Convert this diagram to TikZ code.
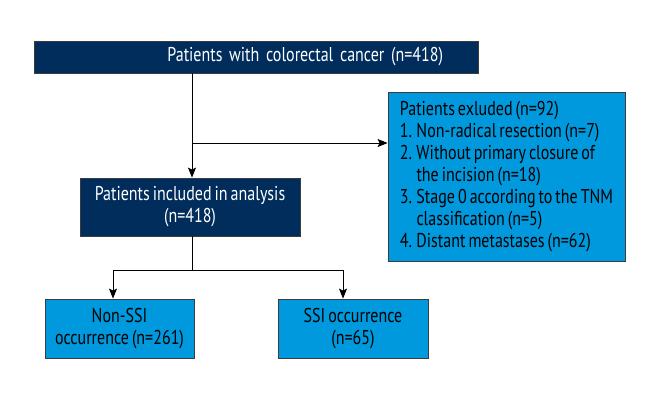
\documentclass[tikz,border=0pt]{standalone}
\usepackage{fontspec}
\setmainfont[FakeStretch=0.8,WordSpace=0.7]{PT Sans}
\usetikzlibrary{arrows.meta}
\definecolor{navyBlue}{RGB}{0,45,92}
\definecolor{skyBlue}{RGB}{0,153,221}
\definecolor{edgeGrey}{RGB}{60,60,60}
\begin{document}
\begin{tikzpicture}[%%
  x=1pt,y=-1pt,%%
  font=\fontsize{20}{22}\selectfont,%%
  darkStyle/.style={draw=edgeGrey,fill=navyBlue,text=white,line width=0.8pt,align=center},%%
  lightStyle/.style={draw=edgeGrey,fill=skyBlue,text=black,line width=0.8pt,align=center},%%
  arrowStyle/.style={-{Stealth[length=10pt,width=8pt,inset=2pt]},line width=1pt},%%
  lineStyle/.style={-,line width=1pt}%%
]
%%
%%
\useasboundingbox (0,0) rectangle (660,400);
\pgfmathsetmacro{\splitx}{192}  %% Where the trunk runs down.
\pgfmathsetmacro{\boxh}{59}     %% Height of the two bottom boxes.
%%
%% The boxes.
\node[darkStyle,minimum width=444pt,minimum height=32pt,inner sep=0pt,
  text width=374pt,align=right] (total) at (256,57)
  {Patients with colorectal cancer (n=418)};
\node[lightStyle,minimum width=237pt,minimum height=169pt,inner sep=0pt,
  align=left] (excluded) at (506.5,176.5)
  {Patients exluded (n=92)\\
   1. Non-radical resection (n=7)\\
   2. Without primary closure of\\
   \hphantom{2. }the incision (n=18)\\
   3. Stage 0 according to the TNM\\
   \hphantom{3. }classification (n=5)\\
   4. Distant metastases (n=62)};
\node[darkStyle,minimum width=220pt,minimum height=58pt] (included) at (190,207)
  {Patients included in analysis\\(n=418)};
\node[lightStyle,minimum width=149pt,minimum height=\boxh pt] (nonssi) at (119.5,328.5)
  {Non-SSI\\occurrence (n=261)};
\node[lightStyle,minimum width=150pt,minimum height=\boxh pt] (ssi) at (353,328.5)
  {SSI occurrence\\(n=65)};
%%
%% The connectors.
\coordinate (split) at (\splitx,143);
\coordinate (branch) at (\splitx,270);
\draw[arrowStyle] (total.south -| split) -- (included.north -| split);
\draw[arrowStyle] (split) -- (split -| excluded.west);
\draw[lineStyle] (included.south -| branch) -- (branch);
\draw[arrowStyle] (branch) -| ([xshift=-6.5pt]nonssi.north);
\draw[arrowStyle] (branch) -| ([xshift=-10pt]ssi.north);
\end{tikzpicture}
\end{document}
